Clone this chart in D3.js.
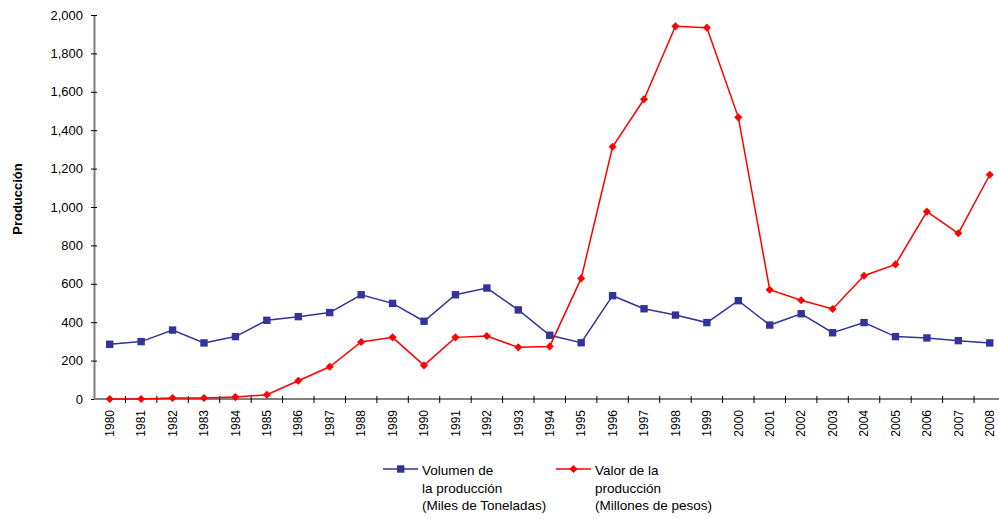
<!DOCTYPE html>
<meta charset="utf-8">
<style>
body { margin: 0; background: #fff; }
svg { font-family: "Liberation Sans", Arial, sans-serif; display: block; }
.axis path { stroke: #808080; stroke-width: 2; }
.axis line { stroke: #000; }
.axis text { fill: #000; font-size: 13px; }
.axis--x text { font-size: 12px; }
</style>
<svg width="999" height="519"></svg>
<script src="https://cdn.jsdelivr.net/npm/d3@7"></script>
<script>

var years = ["1980","1981","1982","1983","1984","1985","1986","1987","1988","1989",
             "1990","1991","1992","1993","1994","1995","1996","1997","1998","1999",
             "2000","2001","2002","2003","2004","2005","2006","2007","2008"];

var volumen = [285, 299, 359, 292, 325, 410, 429, 450, 543, 498,
               405, 543, 578, 464, 332, 293, 538, 470, 437, 398,
               512, 385, 444, 345, 398, 325, 318, 304, 292];

var valor = [0, 0, 5, 5, 10, 22, 95, 168, 297, 321,
             175, 321, 328, 269, 274, 628, 1314, 1561, 1941, 1934,
             1467, 569, 514, 469, 642, 701, 976, 863, 1168];

var yTicks = [0, 200, 400, 600, 800, 1000, 1200, 1400, 1600, 1800, 2000];

var svg = d3.select("svg");

var plot = {left: 94, top: 15, bottom: 399, step: 31.43};

var x = d3.scaleBand().domain(years).range([plot.left, plot.left + 29 * plot.step]),
    y = d3.scaleLinear().domain([0, 2000]).range([plot.bottom, plot.top]);

var cx = function(d, i) { return x(years[i]) + x.bandwidth() / 2; };

// y axis
var yAxis = svg.append("g")
    .attr("class", "axis axis--y")
    .attr("transform", "translate(" + plot.left + ",0)")
    .call(d3.axisLeft(y).tickValues(yTicks).tickSize(3).tickSizeOuter(0).tickFormat(d3.format(",")));
yAxis.selectAll(".tick line").attr("x1", 3).attr("x2", -3);
yAxis.selectAll(".tick text").attr("x", -11);

// x axis, labels at category centres, ticks at boundaries
var xAxis = svg.append("g")
    .attr("class", "axis axis--x")
    .attr("transform", "translate(0," + plot.bottom + ")")
    .call(d3.axisBottom(x).tickSize(0).tickSizeOuter(0));
xAxis.select(".domain").attr("d", "M" + plot.left + ",0H" + (plot.left + 29 * plot.step));
xAxis.selectAll(".tick text")
    .attr("transform", "rotate(-90)")
    .attr("x", -11)
    .attr("y", 0)
    .attr("dy", "0.35em")
    .style("text-anchor", "end");
xAxis.selectAll(".bound")
    .data(years.slice(1))
    .enter().append("line")
    .attr("x1", function(d) { return x(d); })
    .attr("x2", function(d) { return x(d); })
    .attr("y1", -3).attr("y2", 4)
    .attr("stroke", "#000");

svg.append("text")
    .attr("transform", "translate(22,199) rotate(-90)")
    .style("text-anchor", "middle")
    .style("font-size", "13px")
    .style("font-weight", "bold")
    .text("Producción");

var line = d3.line().x(cx).y(function(d) { return y(d); });

// Volumen
svg.append("path")
    .datum(volumen)
    .attr("fill", "none")
    .attr("stroke", "#333399")
    .attr("stroke-width", 1.5)
    .attr("d", line);
svg.selectAll(".sq")
    .data(volumen)
    .enter().append("rect")
    .attr("x", function(d, i) { return cx(d, i) - 3.7; })
    .attr("y", function(d) { return y(d) - 3.7; })
    .attr("width", 7.4).attr("height", 7.4)
    .attr("fill", "#333399");

// Valor
svg.append("path")
    .datum(valor)
    .attr("fill", "none")
    .attr("stroke", "#ff0000")
    .attr("stroke-width", 1.5)
    .attr("d", line);
svg.selectAll(".dm")
    .data(valor)
    .enter().append("path")
    .attr("d", d3.symbol().type(d3.symbolDiamond2).size(42))
    .attr("transform", function(d, i) { return "translate(" + cx(d, i) + "," + y(d) + ")"; })
    .attr("fill", "#ff0000");

// legend
var legend = [
  {color: "#333399", sym: "sq", x: 383, lines: ["Volumen de", "la producción", "(Miles de Toneladas)"]},
  {color: "#ff0000", sym: "dm", x: 556, lines: ["Valor de la", "producción", "(Millones de pesos)"]}
];
var lg = svg.selectAll(".lg")
    .data(legend)
    .enter().append("g")
    .attr("transform", function(d) { return "translate(" + d.x + ",469)"; });
lg.append("line")
    .attr("x1", 0).attr("x2", 35)
    .attr("stroke", function(d) { return d.color; })
    .attr("stroke-width", 1.5);
lg.filter(function(d) { return d.sym === "sq"; }).append("rect")
    .attr("x", 14).attr("y", -3.7).attr("width", 7.4).attr("height", 7.4)
    .attr("fill", function(d) { return d.color; });
lg.filter(function(d) { return d.sym === "dm"; }).append("path")
    .attr("d", d3.symbol().type(d3.symbolDiamond2).size(42))
    .attr("transform", "translate(17.5,0)")
    .attr("fill", function(d) { return d.color; });
lg.append("text")
    .attr("x", 39)
    .attr("y", 6)
    .style("font-size", "13.5px")
    .selectAll("tspan")
    .data(function(d) { return d.lines; })
    .enter().append("tspan")
    .attr("x", 39)
    .attr("dy", function(d, i) { return i ? 17.7 : 0; })
    .text(function(d) { return d; });

</script>
